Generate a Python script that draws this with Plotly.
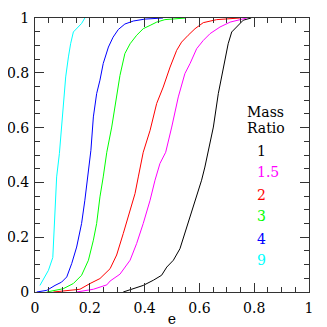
import plotly.graph_objects as go

ticks = [0, 0.2, 0.4, 0.6, 0.8, 1]
tick_labels = ["0", "0.2", "0.4", "0.6", "0.8", "1"]

ratios = ["1", "1.5", "2", "3", "4", "9"]
colors = ["#000000", "#ff00ff", "#ff0000", "#00ff00", "#0000ff", "#00ffff"]

x_q1 = [0.322, 0.359, 0.395, 0.432, 0.462, 0.481, 0.505, 0.529, 0.547, 0.566, 0.590, 0.608, 0.620, 0.631, 0.651, 0.669, 0.687, 0.705, 0.718, 0.736, 0.760, 0.789]
y_q1 = [0.0, 0.012, 0.024, 0.043, 0.061, 0.091, 0.116, 0.158, 0.213, 0.271, 0.347, 0.408, 0.456, 0.51, 0.602, 0.724, 0.809, 0.906, 0.949, 0.967, 0.992, 1.0]

x_q15 = [0.152, 0.213, 0.262, 0.274, 0.31, 0.347, 0.371, 0.395, 0.420, 0.438, 0.456, 0.477, 0.499, 0.523, 0.547, 0.566, 0.590, 0.614, 0.639, 0.675, 0.712, 0.748, 0.773]
y_q15 = [0.0, 0.01, 0.026, 0.04, 0.065, 0.116, 0.177, 0.25, 0.335, 0.408, 0.469, 0.51, 0.602, 0.712, 0.797, 0.834, 0.888, 0.918, 0.943, 0.967, 0.985, 0.994, 1.0]

x_q2 = [0.067, 0.122, 0.164, 0.201, 0.237, 0.274, 0.298, 0.322, 0.347, 0.365, 0.377, 0.395, 0.420, 0.444, 0.468, 0.493, 0.517, 0.535, 0.559, 0.584, 0.614, 0.663, 0.748]
y_q2 = [0.0, 0.007, 0.01, 0.031, 0.049, 0.085, 0.135, 0.213, 0.298, 0.359, 0.42, 0.51, 0.590, 0.688, 0.748, 0.821, 0.882, 0.912, 0.937, 0.961, 0.983, 0.994, 1.0]

x_q3 = [0.043, 0.103, 0.140, 0.170, 0.195, 0.213, 0.225, 0.237, 0.249, 0.262, 0.280, 0.296, 0.310, 0.328, 0.347, 0.371, 0.395, 0.420, 0.444, 0.474, 0.517, 0.55]
y_q3 = [0.0, 0.012, 0.031, 0.061, 0.116, 0.189, 0.25, 0.347, 0.42, 0.51, 0.602, 0.712, 0.79, 0.870, 0.906, 0.937, 0.961, 0.973, 0.985, 0.994, 0.998, 1.0]

x_q4 = [0.006, 0.043, 0.073, 0.097, 0.116, 0.134, 0.152, 0.170, 0.182, 0.195, 0.204, 0.213, 0.225, 0.237, 0.249, 0.268, 0.285, 0.304, 0.328, 0.359, 0.401, 0.467]
y_q4 = [0.0, 0.006, 0.024, 0.036, 0.055, 0.104, 0.164, 0.25, 0.335, 0.432, 0.517, 0.639, 0.724, 0.773, 0.834, 0.894, 0.930, 0.958, 0.978, 0.989, 0.996, 1.0]

x_q9 = [0.018, 0.036, 0.049, 0.065, 0.069, 0.073, 0.079, 0.089, 0.103, 0.112, 0.122, 0.130, 0.140, 0.152, 0.170, 0.182]
y_q9 = [0.024, 0.055, 0.079, 0.126, 0.213, 0.335, 0.42, 0.505, 0.663, 0.785, 0.858, 0.906, 0.949, 0.961, 0.980, 1.0]

series = [(x_q1, y_q1), (x_q15, y_q15), (x_q2, y_q2), (x_q3, y_q3), (x_q4, y_q4), (x_q9, y_q9)]

FONT = "DejaVu Serif"

fig = go.Figure()
for (xs, ys), c, name in zip(series, colors, ratios):
    fig.add_trace(go.Scatter(x=xs, y=ys, mode="lines", name=name,
                             line=dict(color=c, width=1), showlegend=False))

# legend text inside plot
fig.add_annotation(x=0.766, y=0.656, text="Mass", showarrow=False, xanchor="left",
                   font=dict(family=FONT, size=14, color="#000000"))
fig.add_annotation(x=0.766, y=0.597, text="Ratio", showarrow=False, xanchor="left",
                   font=dict(family=FONT, size=14, color="#000000"))
label_y = [0.514, 0.437, 0.353, 0.276, 0.192, 0.116]
for name, c, ly in zip(ratios, colors, label_y):
    fig.add_annotation(x=0.802, y=ly, text=name, showarrow=False, xanchor="left",
                       font=dict(family=FONT, size=14, color=c))

axis_common = dict(
    range=[0, 1], tickvals=ticks, ticktext=tick_labels, automargin=False,
    ticks="inside", ticklen=9, tickwidth=1, tickcolor="#333333",
    minor=dict(dtick=0.05, ticks="inside", ticklen=5, tickcolor="#333333", tickwidth=1, showgrid=False),
    showline=True, linecolor="#333333", linewidth=1, mirror="allticks",
    showgrid=False, zeroline=False,
    tickfont=dict(family=FONT, size=14, color="#000000"),
)

fig.update_xaxes(**axis_common, ticklabelstandoff=3,
                 title=dict(text="e", font=dict(family=FONT, size=14, color="#000000"), standoff=6))
fig.update_yaxes(**axis_common, ticklabelstandoff=2)

# the page body adds an 8px offset, so the figure is sized to fit the 327px window
fig.update_layout(
    width=319, height=319,
    margin=dict(l=27, r=18, t=10, b=35),
    plot_bgcolor="white", paper_bgcolor="white",
)

fig.write_html("out.html")
